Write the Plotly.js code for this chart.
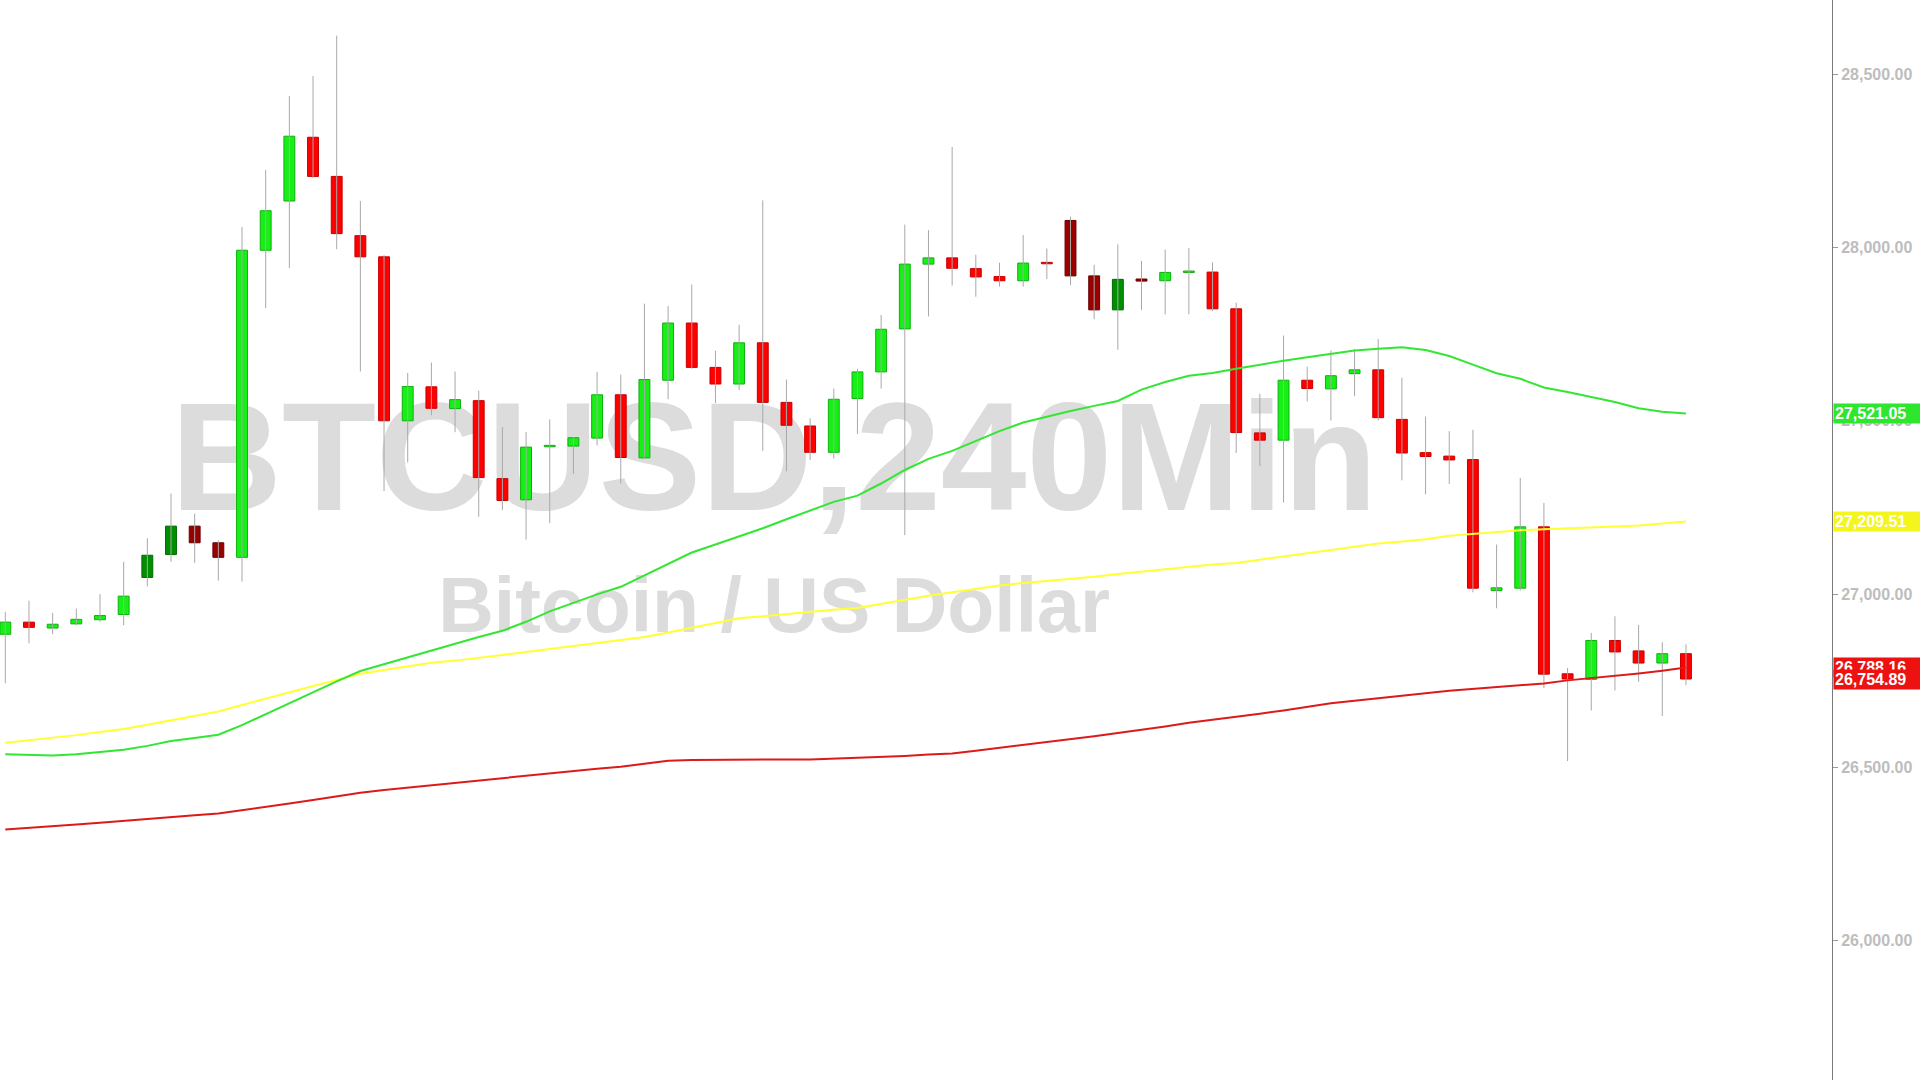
<!DOCTYPE html>
<html><head><meta charset="utf-8">
<script src="https://cdn.plot.ly/plotly-3.0.1.min.js"></script>
<style>html,body{margin:0;padding:0;background:#fff;overflow:hidden;} #chart{width:1920px;height:1080px;}</style>
</head><body><div id="chart"></div>
<script>
const opens = [26884,26919,26902,26914,26926,26941,27048,27114,27196,27148,
  27106,27992,28134,28318,28205,28034,27973,27500,27598,27535,
  27558,27333,27272,27425,27427,27450,27575,27393,27617,27782,
  27654,27606,27725,27553,27485,27409,27564,27641,27765,27952,
  27970,27939,27916,27904,27957,28078,27918,27820,27909,27904,
  27928,27929,27823,27465,27444,27617,27592,27636,27647,27504,
  27408,27398,27388,27010,27017,27194,26770,26754,26866,26836,
  26801,26828];
const highs = [26949,26981,26946,26958,27000,27093,27161,27290,27232,27155,
  28059,28224,28437,28495,28611,28134,27978,27638,27668,27642,
  27587,27482,27468,27504,27453,27641,27633,27838,27831,27893,
  27702,27777,28136,27619,27507,27593,27650,27805,28066,28050,
  28290,27979,27956,28036,27997,28089,27950,28009,27961,27994,
  27999,27957,27841,27578,27746,27656,27703,27707,27736,27624,
  27512,27470,27474,27143,27335,27263,26787,26888,26936,26911,
  26861,26855];
const lows = [26743,26858,26884,26910,26920,26910,27022,27093,27090,27039,
  27036,27825,27941,28201,27995,27642,27297,27380,27516,27467,
  27223,27242,27157,27205,27347,27429,27319,27390,27562,27650,
  27551,27589,27413,27354,27387,27391,27462,27593,27170,27801,
  27890,27858,27887,27887,27909,27891,27793,27705,27820,27807,
  27807,27816,27407,27369,27264,27556,27501,27571,27501,27328,
  27288,27318,27005,26959,27010,26729,26518,26664,26722,26747,
  26648,26737];
const closes = [26919,26904,26913,26927,26938,26994,27112,27196,27148,27106,
  27992,28106,28321,28205,28040,27973,27500,27599,27536,27561,
  27336,27270,27424,27429,27451,27575,27394,27619,27782,27654,
  27606,27725,27553,27487,27409,27562,27641,27764,27952,27970,
  27940,27915,27904,27955,27953,27918,27820,27908,27903,27928,
  27932,27823,27466,27444,27617,27593,27630,27647,27509,27407,
  27397,27387,27017,27018,27194,26769,26755,26866,26833,26801,
  26828,26754.89];
// candles drawn in the darker shade
const darkCandles = [6,7,8,9,45,46,47,48];
// moving averages
const maFast = [26538,26536,26534,26538,26544,26551,26562,26576,26585,26594,
  26622,26654,26686,26717,26748,26778,26798,26816,26837,26856,
  26876,26894,26920,26950,26975,26999,27021,27054,27088,27120,
  27143,27166,27190,27216,27240,27266,27284,27319,27358,27390,
  27413,27442,27470,27495,27512,27528,27543,27557,27590,27612,
  27630,27638,27650,27662,27673,27683,27694,27703,27708,27712,
  27704,27687,27662,27637,27621,27596,27583,27569,27554,27536,
  27526,27521.05];
const maMid = [26571,26578,26586,26593,26602,26611,26623,26636,26648,26661,
  26680,26699,26717,26735,26752,26770,26781,26792,26802,26808,
  26815,26824,26833,26842,26850,26859,26868,26876,26889,26902,
  26915,26930,26936,26943,26949,26955,26960,26972,26984,26995,
  27005,27016,27025,27032,27038,27043,27050,27058,27065,27072,
  27078,27085,27090,27100,27109,27118,27127,27137,27146,27152,
  27158,27168,27174,27180,27184,27187,27189,27192,27195,27198,
  27203,27209.51];
const maSlow = [26321,26325,26330,26335,26340,26346,26351,26357,26362,26367,
  26376,26385,26396,26406,26417,26427,26435,26442,26449,26456,
  26463,26470,26477,26484,26490,26496,26502,26510,26519,26521,
  26522,26523,26523,26523,26523,26525,26527,26530,26533,26537,
  26540,26548,26556,26564,26572,26581,26590,26599,26608,26618,
  26629,26637,26646,26655,26664,26674,26685,26692,26700,26707,
  26714,26721,26726,26731,26737,26742,26751,26757,26763,26771,
  26779,26788.16];
const priceTicks = [26000,26500,27000,27500,28000,28500];
const titleText = 'BTCUSD,240Min';
const subtitleText = 'Bitcoin / US Dollar';

const idx = opens.map((_, i) => i);
const wickX = [], wickY = [];
idx.forEach(i => { wickX.push(i, i, null); wickY.push(lows[i], highs[i], null); });
const bodyBase = idx.map(i => Math.min(opens[i], closes[i]));
const bodyLen = idx.map(i => Math.abs(closes[i] - opens[i]));
const isUp = i => closes[i] >= opens[i];
const isDark = i => darkCandles.includes(i);
const fillCol = idx.map(i => isUp(i) ? (isDark(i) ? '#008f00' : '#16f016') : (isDark(i) ? '#990000' : '#ff0000'));
const edgeCol = idx.map(i => isUp(i) ? (isDark(i) ? '#006a00' : '#0fb00f') : (isDark(i) ? '#6a0000' : '#c80000'));

const GREEN = '#33e633', YELLOW = '#ffff33', RED = '#dd1a1a';
const fmt = v => v.toLocaleString('en-US', {minimumFractionDigits: 2, maximumFractionDigits: 2});

const traces = [
  {type: 'scatter', mode: 'lines', x: wickX, y: wickY, line: {color: '#a8a8a8', width: 1}, hoverinfo: 'skip', showlegend: false},
  {type: 'bar', x: idx, y: bodyLen, base: bodyBase, width: 0.46,
   marker: {color: fillCol, line: {color: edgeCol, width: 1}}, hoverinfo: 'skip', showlegend: false},
  {type: 'scatter', mode: 'lines', x: idx, y: maSlow, line: {color: RED, width: 2}, hoverinfo: 'skip', showlegend: false},
  {type: 'scatter', mode: 'lines', x: idx, y: maMid, line: {color: YELLOW, width: 2}, hoverinfo: 'skip', showlegend: false},
  {type: 'scatter', mode: 'lines', x: idx, y: maFast, line: {color: GREEN, width: 2}, hoverinfo: 'skip', showlegend: false}
];

const last = idx.length - 1;
const tag = (v, bg) => ({x: 1, xref: 'paper', xanchor: 'left', y: v, yref: 'y', yanchor: 'middle',
  text: fmt(v), showarrow: false, bgcolor: bg, borderpad: 1, width: 84, align: 'left', xshift: 1,
  font: {family: 'Liberation Sans, Arial, sans-serif', size: 16, color: '#ffffff', weight: 'bold'}});

const layout = {
  width: 1920, height: 1080,
  margin: {l: 0, r: 88, t: 0, b: 0},
  paper_bgcolor: '#ffffff', plot_bgcolor: '#ffffff',
  showlegend: false,
  xaxis: {range: [-0.224, 77.17], visible: false, showgrid: false, zeroline: false, fixedrange: true},
  yaxis: {side: 'right', range: [25598, 28714], tickvals: priceTicks, tickformat: ',.2f',
    showgrid: false, zeroline: false, showline: true, linecolor: '#7a7a7a', linewidth: 1,
    ticks: 'outside', ticklen: 5, tickcolor: '#9a9a9a',
    tickfont: {family: 'Liberation Sans, Arial, sans-serif', size: 16, color: '#bdbdbd', weight: 'bold'}},
  shapes: [
    {type: 'rect', xref: 'paper', yref: 'paper', x0: 0.02, x1: 0.825, y0: 0.511, y1: 0.671, layer: 'below',
     line: {width: 0}, fillcolor: 'rgba(0,0,0,0)',
     label: {text: titleText, textposition: 'middle center',
       font: {family: 'Liberation Sans, Arial, sans-serif', size: 154, color: '#dcdcdc', weight: 'bold'}}},
    {type: 'rect', xref: 'paper', yref: 'paper', x0: 0.12, x1: 0.725, y0: 0.4065, y1: 0.4865, layer: 'below',
     line: {width: 0}, fillcolor: 'rgba(0,0,0,0)',
     label: {text: subtitleText, textposition: 'middle center',
       font: {family: 'Liberation Sans, Arial, sans-serif', size: 77, color: '#dcdcdc', weight: 'bold'}}}
  ],
  annotations: [
    tag(maFast[last], '#2ee62e'),
    tag(maMid[last], '#f5f51e'),
    tag(maSlow[last], '#ee1111'),
    tag(closes[last], '#ee1111')
  ]
};

Plotly.newPlot('chart', traces, layout, {staticPlot: true, displayModeBar: false});
</script></body></html>
